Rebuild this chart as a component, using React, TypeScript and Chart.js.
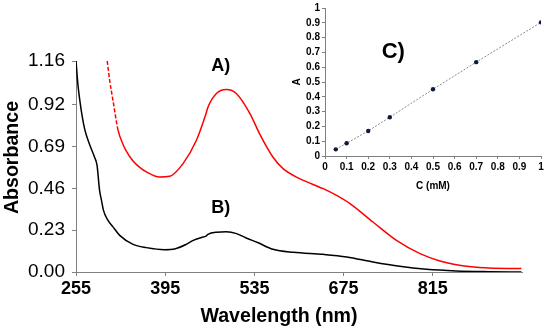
import React, { useEffect, useRef } from "react";
import { Chart, registerables } from "chart.js";
Chart.register(...registerables);

// Main spectrum data
const wavelengthsA = [304, 308, 313, 321, 329, 334, 344.5, 355, 365.5, 386, 402, 423, 444, 459, 462, 475, 491, 507, 528, 543, 564, 580, 606, 643, 664, 685, 721, 758, 795, 826, 868, 910, 954];
const absorbanceA = [1.16, 1.05, 0.944, 0.78, 0.7, 0.665, 0.61, 0.575, 0.55, 0.522, 0.526, 0.596, 0.724, 0.87, 0.905, 0.98, 1.003, 0.98, 0.871, 0.761, 0.632, 0.568, 0.513, 0.458, 0.421, 0.376, 0.275, 0.174, 0.101, 0.061, 0.031, 0.02, 0.019];
const wavelengthsB = [255, 258, 261, 265, 269, 276.5, 284, 288, 292, 295, 298, 305, 313, 324, 344.5, 365.5, 394, 410, 428, 439, 452, 459, 462, 475, 491, 507, 522, 540, 564, 596, 643, 680, 721, 763, 805, 852, 904, 954];
const absorbanceB = [1.16, 1.03, 0.944, 0.85, 0.78, 0.7, 0.632, 0.587, 0.449, 0.394, 0.34, 0.285, 0.248, 0.2, 0.152, 0.134, 0.123, 0.127, 0.152, 0.174, 0.19, 0.197, 0.207, 0.219, 0.221, 0.211, 0.187, 0.162, 0.125, 0.108, 0.097, 0.083, 0.055, 0.031, 0.015, 0.006, 0.002, 0.0];
const xTickValues = [255, 395, 535, 675, 815];
const yTickValues = [0, 0.23, 0.46, 0.69, 0.92, 1.16];
const xTitle = "Wavelength (nm)";
const yTitle = "Absorbance";
const seriesLabels = ["A)", "B)"];

// Inset calibration data
const concentrations = [0.05, 0.1, 0.2, 0.3, 0.5, 0.7, 1.0];
const insetAbs = [0.045, 0.086, 0.169, 0.262, 0.451, 0.634, 0.903];
const insetLabel = "C)";
const insetXTitle = "C (mM)";
const insetYTitle = "A";

const FONT = '"Liberation Sans", Arial, sans-serif';

export default function App() {
  const mainRef = useRef<HTMLCanvasElement>(null);
  const insetRef = useRef<HTMLCanvasElement>(null);

  useEffect(() => {
    const textPlugin = {
      id: "mainText",
      afterDraw(chart: any) {
        const { ctx, chartArea, scales } = chart;
        ctx.save();
        ctx.fillStyle = "#000";
        ctx.textAlign = "center";
        ctx.textBaseline = "middle";
        ctx.font = `bold 19.6px ${FONT}`;
        ctx.fillText(xTitle, (chartArea.left + chartArea.right) / 2 - 20, chart.height - 16);
        ctx.save();
        ctx.translate(13, (chartArea.top + chartArea.bottom) / 2 - 9);
        ctx.rotate(-Math.PI / 2);
        ctx.fillText(yTitle, 0, 0);
        ctx.restore();
        ctx.font = `bold 18px ${FONT}`;
        ctx.fillText(seriesLabels[0], scales.x.getPixelForValue(482), scales.y.getPixelForValue(1.134));
        ctx.fillText(seriesLabels[1], scales.x.getPixelForValue(482), scales.y.getPixelForValue(0.353));
        ctx.restore();
      },
    };

    const main = new Chart(mainRef.current!, {
      type: "line",
      data: {
        datasets: [
          {
            data: wavelengthsA.map((w, i) => ({ x: w, y: absorbanceA[i] })),
            borderColor: "#ff0000",
            borderWidth: 1.5,
            pointRadius: 0,
            cubicInterpolationMode: "monotone",
            segment: {
              borderDash: (c: any) => (c.p0.parsed.x < 317 ? [4, 2] : undefined),
            },
          },
          {
            data: wavelengthsB.map((w, i) => ({ x: w, y: absorbanceB[i] })),
            borderColor: "#000000",
            borderWidth: 1.5,
            pointRadius: 0,
            cubicInterpolationMode: "monotone",
          },
        ],
      },
      options: {
        responsive: false,
        animation: false,
        layout: { padding: { left: 0, top: 61, right: 28, bottom: 0 } },
        plugins: { legend: { display: false }, tooltip: { enabled: false } },
        scales: {
          x: {
            type: "linear",
            min: 255,
            max: 955,
            afterBuildTicks: (s: any) => {
              s.ticks = xTickValues.map((v) => ({ value: v }));
            },
            afterFit: (s: any) => {
              s.height = 61;
            },
            ticks: {
              font: { family: FONT, size: 18, weight: "bold" },
              color: "#000",
              padding: 2,
              maxRotation: 0,
              autoSkip: false,
            },
            grid: { drawOnChartArea: false, drawTicks: true, tickLength: 4, color: "#808080" },
            border: { display: true, color: "#808080", width: 1 },
          },
          y: {
            type: "linear",
            min: 0,
            max: 1.16,
            afterBuildTicks: (s: any) => {
              s.ticks = yTickValues.map((v) => ({ value: v }));
            },
            afterFit: (s: any) => {
              s.width = 76;
            },
            ticks: {
              font: { family: FONT, size: 19 },
              color: "#000",
              padding: 7,
              autoSkip: false,
              callback: (v: any) => Number(v).toFixed(2),
            },
            grid: { drawOnChartArea: false, drawTicks: true, tickLength: 4, color: "#808080" },
            border: { display: true, color: "#808080", width: 1 },
          },
        },
      },
      plugins: [textPlugin],
    } as any);

    const insetPlugin = {
      id: "insetText",
      afterDraw(chart: any) {
        const { ctx, scales } = chart;
        ctx.save();
        ctx.fillStyle = "#000";
        ctx.textAlign = "center";
        ctx.textBaseline = "middle";
        ctx.font = `bold 22px ${FONT}`;
        ctx.fillText(insetLabel, scales.x.getPixelForValue(0.316), scales.y.getPixelForValue(0.7));
        ctx.restore();
      },
    };

    const inset = new Chart(insetRef.current!, {
      type: "scatter",
      data: {
        datasets: [
          {
            data: concentrations.map((c, i) => ({ x: c, y: insetAbs[i] })),
            showLine: true,
            borderColor: "#8a8a8a",
            borderWidth: 1,
            borderDash: [2, 1.5],
            pointRadius: 2.2,
            pointBackgroundColor: "#0d1b3e",
            pointBorderColor: "#0d1b3e",
            pointBorderWidth: 0,
          },
        ],
      },
      options: {
        responsive: false,
        animation: false,
        layout: { padding: { left: 0, top: 8, right: 9, bottom: 0 } },
        plugins: { legend: { display: false }, tooltip: { enabled: false } },
        scales: {
          x: {
            type: "linear",
            min: 0,
            max: 1,
            afterFit: (s: any) => {
              s.height = 39;
            },
            ticks: {
              stepSize: 0.1,
              font: { family: FONT, size: 10, weight: "bold" },
              color: "#000",
              padding: 2,
              maxRotation: 0,
              autoSkip: false,
              callback: (v: any) => String(Math.round(Number(v) * 10) / 10),
            },
            title: {
              display: true,
              text: insetXTitle,
              font: { family: FONT, size: 10, weight: "bold" },
              color: "#000",
              padding: { top: 0, bottom: 3 },
            },
            grid: { drawOnChartArea: false, drawTicks: true, tickLength: 3, color: "#808080" },
            border: { display: true, color: "#808080", width: 1 },
          },
          y: {
            type: "linear",
            min: 0,
            max: 1,
            afterFit: (s: any) => {
              s.width = 40;
            },
            ticks: {
              stepSize: 0.1,
              font: { family: FONT, size: 10, weight: "bold" },
              color: "#000",
              padding: 2,
              autoSkip: false,
              callback: (v: any) => String(Math.round(Number(v) * 10) / 10),
            },
            title: {
              display: true,
              text: insetYTitle,
              font: { family: FONT, size: 10, weight: "bold" },
              color: "#000",
              padding: { top: 6, bottom: 0 },
            },
            grid: { drawOnChartArea: false, drawTicks: true, tickLength: 3, color: "#808080" },
            border: { display: true, color: "#808080", width: 1 },
          },
        },
      },
      plugins: [insetPlugin],
    } as any);

    return () => {
      main.destroy();
      inset.destroy();
    };
  }, []);

  return (
    <div style={{ position: "fixed", left: 0, top: 0, width: 550, height: 333, background: "#fff" }}>
      <canvas ref={mainRef} width={550} height={333} style={{ position: "absolute", left: 0, top: 0 }} />
      <canvas ref={insetRef} width={265} height={195} style={{ position: "absolute", left: 285, top: 0 }} />
    </div>
  );
}
